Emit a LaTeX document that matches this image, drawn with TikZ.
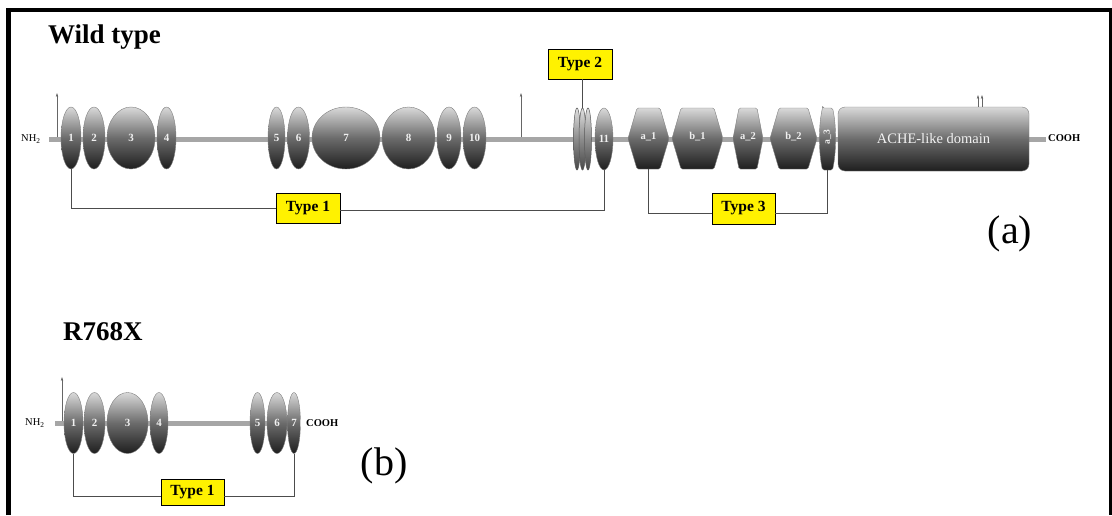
\documentclass[tikz,border=0pt]{standalone}
\usepackage{fontspec}
\setmainfont{Liberation Serif}
\usetikzlibrary{shapes.geometric,arrows.meta}
\newcommand\myfs[1]{\fontsize{#1}{#1}\selectfont}
\begin{document}
\begin{tikzpicture}[x=1pt,y=-1pt,
  dom/.style n args={2}{ellipse,inner sep=0pt,minimum width=#1,minimum height=#2,
    draw=black!50,line width=0.4pt,top color=black!15,bottom color=black!88,middle color=black!58,
    font=\myfs{11}\bfseries,text=black!6},
  thin/.style={ellipse,inner sep=0pt,minimum width=7pt,minimum height=62pt,
    draw=black!65,line width=0.5pt,top color=black!12,bottom color=black!72,middle color=black!45},
  hexshade/.style={draw=black!50,line width=0.4pt,top color=black!15,bottom color=black!88,middle color=black!58,rounded corners=1.5pt},
  hexlab/.style={font=\myfs{10.5}\bfseries,text=black!6,inner sep=0pt},
  bb/.style={draw=black!35,line width=5pt},
  conn/.style={draw=black!70,line width=0.8pt},
  arr/.style={draw=black!60,line width=0.5pt,-{Stealth[length=4pt,width=2.4pt]}},
  typebox/.style={draw=black,line width=0.6pt,fill=yellow,inner sep=0pt,
    minimum width=64pt,minimum height=30pt,font=\myfs{15.5}\bfseries},
  title/.style={font=\myfs{27}\bfseries,inner sep=0pt,anchor=base west},
  small/.style={font=\myfs{10.5},inner sep=0pt},
  panel/.style={font=\myfs{40},inner sep=0pt}
]
\useasboundingbox (0,0) rectangle (1112,515);
\fill[white] (0,0) rectangle (1112,515);
% frame
\draw[line width=5pt] (8.5,515) -- (8.5,10);
\draw[line width=4.5pt] (6,10) -- (1112,10);
\draw[line width=3pt] (1110.5,8) -- (1110.5,515);

% ---------------- Wild type ----------------
\node[title] (wt) at (48,43) {Wild type};
\node[small,anchor=west] (nh2a) at (21,139) {NH\textsubscript{2}};
\node[small,anchor=west,font=\myfs{10.5}\bfseries] (cooha) at (1048,138) {COOH};
\coordinate (bbaL) at (49,139.5);
\coordinate (bbaR) at (1046,139.5);
\draw[bb] (bbaL) -- (bbaR);

\coordinate (ar1s) at (57,137); \coordinate (ar1e) at (57,93);
\coordinate (ar2s) at (521,137); \coordinate (ar2e) at (521,93);
\draw[arr] (ar1s) -- (ar1e);
\draw[arr] (ar2s) -- (ar2e);

\node[dom={20pt}{62pt}] (w1) at (71,138) {1};
\node[dom={22pt}{62pt}] (w2) at (94,138) {2};
\node[dom={48pt}{62pt}] (w3) at (131,138) {3};
\node[dom={19pt}{62pt}] (w4) at (166.5,138) {4};
\node[dom={17pt}{62pt}] (w5) at (276.5,138) {5};
\node[dom={22pt}{62pt}] (w6) at (298.5,138) {6};
\node[dom={68pt}{62pt}] (w7) at (346,138) {7};
\node[dom={53pt}{62pt}] (w8) at (408.5,138) {8};
\node[dom={24pt}{62pt}] (w9) at (449,138) {9};
\node[dom={23pt}{62pt}] (w10) at (474.5,138) {10};
\node[thin] (t2a) at (577,139) {};
\node[thin] (t2b) at (582.5,139) {};
\node[thin] (t2c) at (588,139) {};
\node[dom={18pt}{62pt}] (w11) at (604,139) {11};

% hexagons
\path[hexshade] (637,108) -- (660,108) -- (669,138.5) -- (660,169) -- (637,169) -- (628,138.5) -- cycle;
\node[hexlab] (ha1) at (648.5,137) {a\_1};
\path[hexshade] (681,108) -- (714,108) -- (723,138.5) -- (714,169) -- (681,169) -- (672,138.5) -- cycle;
\node[hexlab] (hb1) at (697.5,137) {b\_1};
\path[hexshade] (739,108) -- (757,108) -- (763,138.5) -- (757,169) -- (739,169) -- (733,138.5) -- cycle;
\node[hexlab] (ha2) at (748,137) {a\_2};
\path[hexshade] (779,108) -- (808,108) -- (817,138.5) -- (808,169) -- (779,169) -- (770,138.5) -- cycle;
\node[hexlab] (hb2) at (793.5,137) {b\_2};
\path[hexshade] (822.5,108) -- (832.5,108) .. controls (836.5,125) and (836.5,152) .. (832.5,170)
  -- (822.5,170) .. controls (818.5,152) and (818.5,125) .. (822.5,108) -- cycle;
\node[hexlab,rotate=90,font=\myfs{9.5}\bfseries] (ha3) at (827.5,137) {a\_3};
\coordinate (ha1s) at (648,169);
\coordinate (ha3s) at (827.5,170);

% ACHE-like domain
\node[draw=black!50,line width=0.4pt,rounded corners=7pt,top color=black!15,bottom color=black!88,middle color=black!58,
  minimum width=191pt,minimum height=64pt,inner sep=0pt,font=\myfs{14.5},text=black!5] (ache) at (933.5,139) {ACHE-like domain};
\coordinate (ar3s) at (978,106.5); \coordinate (ar3e) at (978,95);
\coordinate (ar4s) at (982,106.5); \coordinate (ar4e) at (982,95);
\draw[arr] (ar3s) -- (ar3e);
\draw[arr] (ar4s) -- (ar4e);

% type boxes
\node[typebox] (ty1) at (308,208) {Type 1};
\node[typebox] (ty2) at (580,64) {Type 2};
\node[typebox,minimum width=63pt,minimum height=31pt] (ty3) at (743.5,208.5) {Type 3};

\draw[conn] (w1.south) |- (ty1.west);
\draw[conn] ([yshift=-2pt]ty1.east) -| (w11.south);
\draw[conn] (t2b.north |- ty2.south) -- (t2b.north);
\draw[conn] (ha1s) |- ([yshift=-4.5pt]ty3.west);
\draw[conn] ([yshift=-4.5pt]ty3.east) -| (ha3s);

\node[panel] (pa) at (1010,234) {(a)};

% ---------------- R768X ----------------
\node[title] (mt) at (63,340) {R768X};
\node[small,anchor=west] (nh2b) at (25,423) {NH\textsubscript{2}};
\coordinate (bbbL) at (55,423.5);
\coordinate (bbbR) at (295,423.5);
\draw[bb] (bbbL) -- (bbbR);
\coordinate (ar5s) at (62,421); \coordinate (ar5e) at (62,377);
\draw[arr] (ar5s) -- (ar5e);

\node[dom={19pt}{61pt}] (m1) at (73.5,423) {1};
\node[dom={21pt}{61pt}] (m2) at (94.5,423) {2};
\node[dom={41pt}{61pt}] (m3) at (127.5,423) {3};
\node[dom={18pt}{61pt}] (m4) at (159,423) {4};
\node[dom={15pt}{61pt}] (m5) at (257.5,423) {5};
\node[dom={20pt}{61pt}] (m6) at (277,423) {6};
\node[dom={13pt}{61pt}] (m7) at (294,423) {7};
\node[small,anchor=west,font=\myfs{10.5}\bfseries] (coohb) at (306,423) {COOH};

\node[typebox,minimum width=63pt,minimum height=26pt] (ty1b) at (192.5,492) {Type 1};
\draw[conn] (m1.south) |- ([yshift=-4pt]ty1b.west);
\draw[conn] ([yshift=-4pt]ty1b.east) -| (m7.south);

\node[panel] (pb) at (384,466) {(b)};
\end{tikzpicture}
\end{document}
